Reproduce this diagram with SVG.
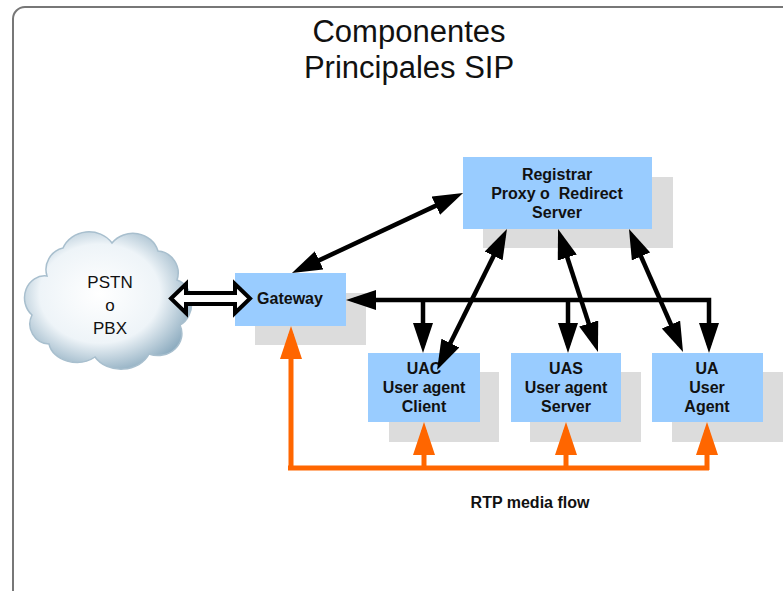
<svg xmlns="http://www.w3.org/2000/svg" width="783" height="591" viewBox="0 0 783 591">
<style>
.box{fill:#99CCFF;}
.shadow{fill:#DCDCDC;}
.lbl{font-family:"Liberation Sans",Arial,sans-serif;font-size:16px;font-weight:bold;fill:#111;text-anchor:middle;}
.title{font-family:"Liberation Sans",Arial,sans-serif;font-size:31px;fill:#111;text-anchor:middle;}
.cl{font-family:"Liberation Sans",Arial,sans-serif;font-size:17px;fill:#111;text-anchor:middle;}
.blk{fill:none;stroke:#000;stroke-width:4.5;}
.org{fill:none;stroke:#FF6600;stroke-width:5;}
</style>
<defs>
<marker id="ab" markerUnits="userSpaceOnUse" markerWidth="30" markerHeight="20" refX="22" refY="10" orient="auto-start-reverse">
<path d="M0,0 L30,10 L0,20 z" fill="#000"/>
</marker>
<marker id="ao" markerUnits="userSpaceOnUse" markerWidth="33" markerHeight="22" refX="25" refY="11" orient="auto-start-reverse">
<path d="M0,0 L33,11 L0,22 z" fill="#FF6600"/>
</marker>
<radialGradient id="cg" cx="0.45" cy="0.45" r="0.6">
<stop offset="0" stop-color="#FFFFFF"/>
<stop offset="0.6" stop-color="#EEF4F8"/>
<stop offset="1" stop-color="#8CABBF"/>
</radialGradient>
</defs>
<rect x="13" y="7" width="800" height="610" rx="12" fill="#fff" stroke="#777" stroke-width="2"/>
<g id="title">
<text class="title" x="409" y="42">Componentes</text>
<text class="title" x="409" y="78">Principales SIP</text>
</g>
<g id="pstn">
<path d="M47,276 A22,22 0 0 1 63,248 A28,26 0 0 1 112,243 A26,24 0 0 1 158,251 A22,22 0 0 1 177,280 A20,24 0 0 1 180,325 A24,22 0 0 1 149,354 A30,24 0 0 1 95,357 A28,22 0 0 1 49,344 A20,20 0 0 1 32,315 A20,22 0 0 1 47,276 Z" fill="url(#cg)" stroke="#A8BFCE" stroke-width="1.5"/>
<text class="cl" x="110" y="288">PSTN</text>
<text class="cl" x="110" y="311">o</text>
<text class="cl" x="110" y="334">PBX</text>
</g>
<g id="registrar">
<rect class="shadow" x="483" y="177" width="190" height="71"/>
<rect class="box" x="463" y="157" width="189" height="72"/>
<text class="lbl" x="557" y="180">Registrar</text>
<text class="lbl" x="557" y="199">Proxy o&#160; Redirect</text>
<text class="lbl" x="557" y="218">Server</text>
</g>
<g id="gateway">
<rect class="shadow" x="255" y="293" width="111" height="52"/>
<rect class="box" x="235" y="273" width="111" height="53"/>
<text class="lbl" x="290" y="304">Gateway</text>
</g>
<g id="uac">
<rect class="shadow" x="389" y="372" width="110" height="70"/>
<rect class="box" x="368" y="353" width="112" height="69"/>
<text class="lbl" x="424" y="374">UAC</text>
<text class="lbl" x="424" y="393">User agent</text>
<text class="lbl" x="424" y="412">Client</text>
</g>
<g id="uas">
<rect class="shadow" x="530" y="372" width="111" height="70"/>
<rect class="box" x="511" y="353" width="110" height="69"/>
<text class="lbl" x="566" y="374">UAS</text>
<text class="lbl" x="566" y="393">User agent</text>
<text class="lbl" x="566" y="412">Server</text>
</g>
<g id="ua">
<rect class="shadow" x="672" y="372" width="111" height="70"/>
<rect class="box" x="652" y="353" width="111" height="69"/>
<text class="lbl" x="707" y="374">UA</text>
<text class="lbl" x="707" y="393">User</text>
<text class="lbl" x="707" y="412">Agent</text>
</g>
<g id="connectors">
<path d="M171,298.5 L186,284 L186,293 L235,293 L235,284 L250,298.5 L235,313 L235,304 L186,304 L186,313 Z" fill="#fff" stroke="#000" stroke-width="4" stroke-linejoin="miter"/>
<line class="blk" x1="299.2" y1="269.6" x2="455.8" y2="196.4" marker-start="url(#ab)" marker-end="url(#ab)"/>
<line class="blk" x1="503.4" y1="236.2" x2="440.6" y2="362.8" marker-start="url(#ab)" marker-end="url(#ab)"/>
<line class="blk" x1="560.5" y1="236.6" x2="595.5" y2="344.4" marker-start="url(#ab)" marker-end="url(#ab)"/>
<line class="blk" x1="632.2" y1="236.3" x2="679.8" y2="344.7" marker-start="url(#ab)" marker-end="url(#ab)"/>
<path class="blk" d="M354,300 H709 V345" marker-start="url(#ab)" marker-end="url(#ab)"/>
<path class="blk" d="M423,300 V345" marker-end="url(#ab)"/>
<path class="blk" d="M568,300 V345" marker-end="url(#ab)"/>
<path class="org" d="M288,468 H709"/>
<path class="org" d="M291,470 V334" marker-end="url(#ao)"/>
<path class="org" d="M424,468 V430" marker-end="url(#ao)"/>
<path class="org" d="M566,468 V430" marker-end="url(#ao)"/>
<path class="org" d="M707,470 V430" marker-end="url(#ao)"/>
<text class="lbl" x="530" y="508">RTP media flow</text>
</g>
</svg>
